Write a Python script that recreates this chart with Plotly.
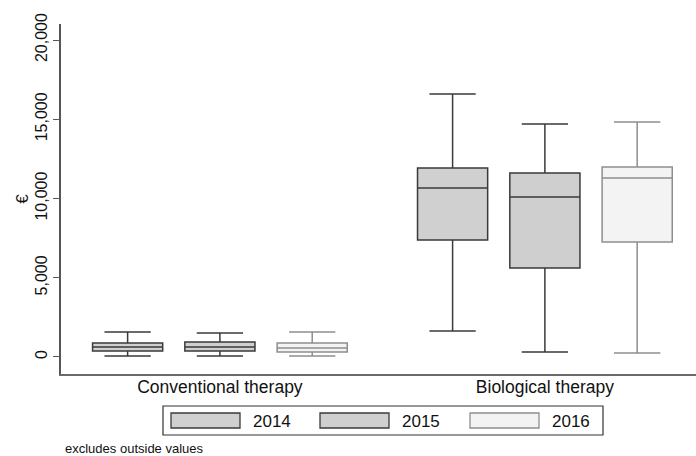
import plotly.graph_objects as go

# ---- data ----
categories = ["Conventional therapy", "Biological therapy"]
years = ["2014", "2015", "2016"]

lower_2014 = [60, 1640]
q1_2014 = [380, 7380]
median_2014 = [630, 10660]
q3_2014 = [880, 11920]
upper_2014 = [1580, 16600]

lower_2015 = [60, 320]
q1_2015 = [380, 5620]
median_2015 = [630, 10090]
q3_2015 = [950, 11610]
upper_2015 = [1510, 14700]

lower_2016 = [60, 250]
q1_2016 = [315, 7260]
median_2016 = [570, 11290]
q3_2016 = [880, 11990]
upper_2016 = [1580, 14830]

y_ticks = [0, 5000, 10000, 15000, 20000]
y_tick_labels = ["0", "5,000", "10,000", "15,000", "20,000"]

# ---- styles ----
fills = {"2014": "#d0d0d0", "2015": "#cfcfcf", "2016": "#f3f3f3"}
lines = {"2014": "#3a3a3a", "2015": "#3a3a3a", "2016": "#8e8e8e"}
FONT = "Liberation Sans, Arial, Helvetica, sans-serif"

stats = {
    "2014": (lower_2014, q1_2014, median_2014, q3_2014, upper_2014),
    "2015": (lower_2015, q1_2015, median_2015, q3_2015, upper_2015),
    "2016": (lower_2016, q1_2016, median_2016, q3_2016, upper_2016),
}

fig = go.Figure()
for yr in years:
    lo, q1, md, q3, hi = stats[yr]
    fig.add_trace(go.Box(
        name=yr,
        x=categories,
        lowerfence=lo, q1=q1, median=md, q3=q3, upperfence=hi,
        fillcolor=fills[yr],
        line=dict(color=lines[yr], width=1.5),
        whiskerwidth=0.66,
        boxpoints=False,
        showlegend=False,
        hoverinfo="skip",
    ))

W, H = 696, 456
ML, MR, MT, MB = 61, 0, 24, 82
PW, PH = W - ML - MR, H - MT - MB


def px_x(px):
    return (px - ML) / PW


def px_y(py):
    return (H - MB - py) / PH


shapes = []
annotations = []
# legend frame
shapes.append(dict(type="rect", xref="paper", yref="paper",
                   x0=px_x(163), x1=px_x(603), y0=px_y(435), y1=px_y(406),
                   line=dict(color="#333333", width=1.2), fillcolor="white"))
swatch_left = [171, 320, 470]
for i, yr in enumerate(years):
    x0 = swatch_left[i]
    shapes.append(dict(type="rect", xref="paper", yref="paper",
                       x0=px_x(x0), x1=px_x(x0 + 69), y0=px_y(428), y1=px_y(413),
                       line=dict(color=lines[yr], width=1.3), fillcolor=fills[yr]))
    annotations.append(dict(xref="paper", yref="paper", x=px_x(x0 + 80), y=px_y(421),
                            text=yr, showarrow=False, xanchor="left", yanchor="middle",
                            font=dict(family=FONT, size=17, color="#111111")))

annotations.append(dict(xref="paper", yref="paper", x=px_x(63), y=px_y(449),
                        text="excludes outside values", showarrow=False,
                        xanchor="left", yanchor="middle",
                        font=dict(family=FONT, size=13, color="#111111")))

fig.update_layout(
    width=W, height=H,
    margin=dict(l=ML, r=MR, t=MT, b=MB, autoexpand=False),
    paper_bgcolor="white", plot_bgcolor="white",
    boxmode="group", boxgap=0.148, boxgroupgap=0.24,
    font=dict(family=FONT, color="#111111"),
    shapes=shapes, annotations=annotations,
    showlegend=False,
)
fig.update_xaxes(
    type="category", range=[-0.489, 1.465], automargin=False,
    showline=True, linecolor="#6a6a6a", linewidth=1.5,
    ticks="", showgrid=False, zeroline=False, ticklabelstandoff=-4,
    tickfont=dict(family=FONT, size=17.5, color="#111111"),
)
fig.update_yaxes(
    range=[-1073, 21010], automargin=False,
    tickvals=y_ticks, ticktext=y_tick_labels, tickangle=-90,
    ticks="outside", ticklen=6, tickcolor="#555555", tickwidth=1.2,
    showline=True, linecolor="#555555", linewidth=1.5,
    showgrid=False, zeroline=False,
    tickfont=dict(family=FONT, size=16, color="#111111"),
    title=dict(text="€", font=dict(family=FONT, size=17, color="#111111"), standoff=0),
)

fig.write_html("out.html", config={"displayModeBar": False},
               post_script="document.body.style.margin='0';")
